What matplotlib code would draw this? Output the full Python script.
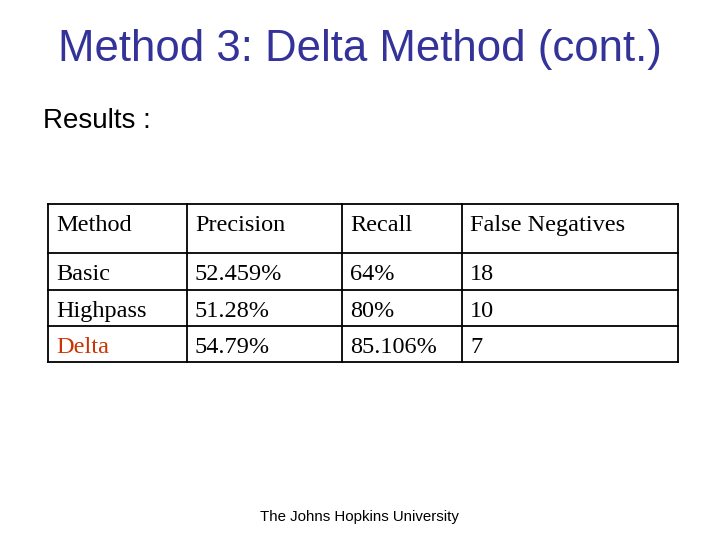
import matplotlib
matplotlib.use("Agg")
import matplotlib.pyplot as plt
from matplotlib.lines import Line2D

title = "Method 3: Delta Method (cont.)"
subtitle = "Results :"
footer = "The Johns Hopkins University"
header = ["Method", "Precision", "Recall", "False Negatives"]
methods = ["Basic", "Highpass", "Delta"]
precision = ["52.459%", "51.28%", "54.79%"]
recall = ["64%", "80%", "85.106%"]
false_negatives = ["18", "10", "7"]

W, H = 720, 540
fig = plt.figure(figsize=(7.2, 5.4), dpi=100)
fig.patch.set_facecolor("white")

def fx(px): return px / W
def fy(py): return 1 - py / H

fig.text(fx(360), fy(50), title, ha="center", va="center", fontsize=31.5,
         color="#333399", family="Liberation Sans")
fig.text(fx(43), fy(121), subtitle, ha="left", va="center", fontsize=20,
         color="black", family="Liberation Sans")
fig.text(fx(359), fy(517), footer, ha="center", va="center", fontsize=10.8,
         color="black", family="Liberation Sans")

cols = [48, 187, 342, 462, 678]
rows = [204, 253, 290, 326, 362]
lw = 1.3
for y in rows:
    fig.add_artist(Line2D([fx(cols[0]), fx(cols[-1])], [fy(y), fy(y)], color="black", lw=lw))
for x in cols:
    fig.add_artist(Line2D([fx(x), fx(x)], [fy(rows[0]), fy(rows[-1])], color="black", lw=lw))

table = [header] + [list(r) for r in zip(methods, precision, recall, false_negatives)]
ybase = [231, 280, 317, 353]
for i, row in enumerate(table):
    for j, val in enumerate(row):
        c = "#cc3300" if (j == 0 and val == "Delta") else "black"
        fig.text(fx(cols[j] + 8), fy(ybase[i]), val, ha="left", va="baseline",
                 fontsize=17.5, color=c, family="Liberation Serif")

fig.savefig("out.png", dpi=100)
